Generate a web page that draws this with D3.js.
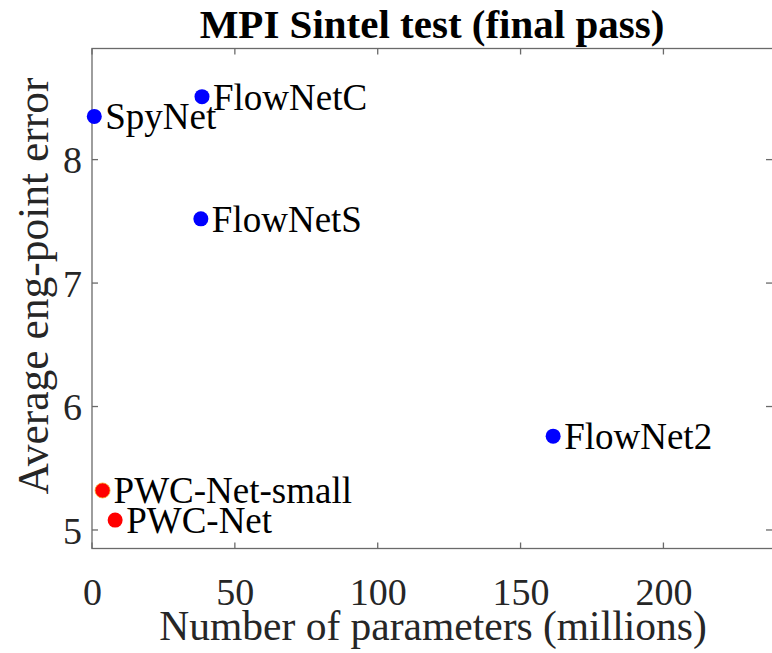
<!DOCTYPE html>
<html>
<head>
<meta charset="utf-8">
<script src="https://cdn.jsdelivr.net/npm/d3@7"></script>
<style>
  body { margin: 0; background: #fff; }
  text { font-family: "Liberation Serif", "Times New Roman", serif; }
</style>
</head>
<body>
<div id="chart"></div>
<script>
var width = 772;
var height = 653;

// data
var models = ['SpyNet', 'FlowNetC', 'FlowNetS', 'FlowNet2', 'PWC-Net-small', 'PWC-Net'];
var params = [0.8, 38.5, 38.1, 161.4, 3.7, 8.1];
var epe = [8.35, 8.51, 7.52, 5.76, 5.32, 5.08];
var ours = [false, false, false, false, true, true];
var xTicks = [0, 50, 100, 150, 200];
var yTicks = [5, 6, 7, 8];

var data = models.map(function (m, i) {
  return { name: m, params: params[i], epe: epe[i], ours: ours[i] };
});

var plotL = 92, plotR = 772, plotT = 48.5, plotB = 548.5;

var x = d3.scaleLinear().domain([0, 238]).range([plotL, plotR]);
var y = d3.scaleLinear().domain([4.85, 8.9]).range([plotB, plotT]);

var svg = d3.select("#chart")
    .append("svg")
    .attr("width", width)
    .attr("height", height);

var axisColor = "#6a6a6a";
var textColor = "#262626";

// box
svg.append("rect")
    .attr("x", plotL)
    .attr("y", plotT)
    .attr("width", plotR - plotL + 1)
    .attr("height", plotB - plotT)
    .attr("fill", "none")
    .attr("stroke", axisColor)
    .attr("stroke-width", 1.3);

var tickLen = 6;

var bottomAxis = d3.axisBottom(x).tickValues(xTicks).tickFormat(d3.format("d")).tickSize(0).tickPadding(0);
var gx = svg.append("g").attr("transform", "translate(0," + plotB + ")").call(bottomAxis);
gx.select(".domain").remove();
gx.selectAll(".tick line").remove();
gx.selectAll(".tick text")
    .attr("y", 56)
    .attr("dy", null)
    .attr("fill", textColor)
    .style("font-size", "38px");

var leftAxis = d3.axisLeft(y).tickValues(yTicks).tickFormat(d3.format("d")).tickSize(0).tickPadding(0);
var gy = svg.append("g").attr("transform", "translate(" + plotL + ",0)").call(leftAxis);
gy.select(".domain").remove();
gy.selectAll(".tick line").remove();
gy.selectAll(".tick text")
    .attr("x", -10)
    .attr("dy", "0.35em")
    .attr("fill", textColor)
    .style("font-size", "38px");

// inward ticks on all four sides
var ticks = svg.append("g").attr("stroke", axisColor).attr("stroke-width", 1.3);
xTicks.forEach(function (t) {
  ticks.append("line").attr("x1", x(t)).attr("x2", x(t)).attr("y1", plotB).attr("y2", plotB - tickLen);
  ticks.append("line").attr("x1", x(t)).attr("x2", x(t)).attr("y1", plotT).attr("y2", plotT + tickLen);
});
yTicks.forEach(function (t) {
  ticks.append("line").attr("x1", plotL).attr("x2", plotL + tickLen).attr("y1", y(t)).attr("y2", y(t));
  ticks.append("line").attr("x1", plotR).attr("x2", plotR - tickLen).attr("y1", y(t)).attr("y2", y(t));
});

// points
var groups = svg.selectAll(".pt")
    .data(data)
    .enter()
    .append("g")
    .attr("class", "pt")
    .attr("transform", function (d) { return "translate(" + x(d.params) + "," + y(d.epe) + ")"; });

groups.append("circle")
    .attr("r", 7.5)
    .attr("fill", function (d) { return d.ours ? "#ff0000" : "#0000ff"; })
    .attr("stroke", function (d) { return d.name == 'PWC-Net-small' ? "#f5a623" : "none"; })
    .attr("stroke-width", 0.8);

groups.append("text")
    .attr("x", 11)
    .attr("dy", "0.35em")
    .attr("fill", "#000")
    .style("font-size", "37px")
    .text(function (d) { return d.name; });

// titles
svg.append("text")
    .attr("x", (plotL + plotR) / 2)
    .attr("y", 38)
    .attr("text-anchor", "middle")
    .attr("fill", "#000")
    .style("font-size", "41px")
    .style("font-weight", "bold")
    .text("MPI Sintel test (final pass)");

svg.append("text")
    .attr("x", 433)
    .attr("y", 640)
    .attr("text-anchor", "middle")
    .attr("fill", textColor)
    .style("font-size", "41.5px")
    .text("Number of parameters (millions)");

svg.append("text")
    .attr("transform", "translate(48,286) rotate(-90)")
    .attr("text-anchor", "middle")
    .attr("fill", textColor)
    .style("font-size", "43.5px")
    .text("Average eng-point error");
</script>
</body>
</html>
